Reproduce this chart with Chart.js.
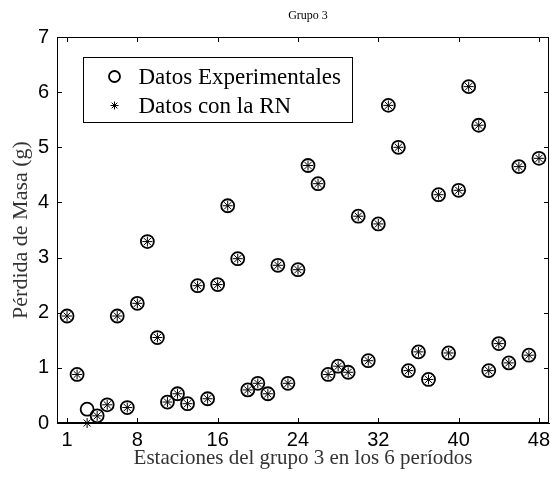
<!DOCTYPE html>
<html>
<head>
<meta charset="utf-8">
<title>Grupo 3</title>
<script src="https://cdn.jsdelivr.net/npm/chart.js@4/dist/chart.umd.min.js"></script>
<style>
    body { margin: 0; background: #fff; }
    canvas { display: block; }
</style>
</head>
<body>
<canvas id="masaChart" width="558" height="480"></canvas>
<script>
const stations = [1, 2, 3, 4, 5, 6, 7, 8, 9, 10, 11, 12, 13, 14, 15, 16,
    17, 18, 19, 20, 21, 22, 23, 24, 25, 26, 27, 28, 29, 30, 31, 32,
    33, 34, 35, 36, 37, 38, 39, 40, 41, 42, 43, 44, 45, 46, 47, 48];

const perdidaExp = [1.94, 0.88, 0.25, 0.13, 0.33, 1.94, 0.28, 2.17, 3.29, 1.55, 0.38, 0.53, 0.35, 2.49, 0.44, 2.51,
    3.94, 2.98, 0.60, 0.72, 0.53, 2.86, 0.72, 2.78, 4.67, 4.34, 0.88, 1.03, 0.92, 3.75, 1.13, 3.61,
    5.76, 5.00, 0.95, 1.29, 0.79, 4.14, 1.27, 4.22, 6.10, 5.40, 0.95, 1.44, 1.09, 4.65, 1.23, 4.80];

const perdidaRN = [1.94, 0.88, 0.00, 0.13, 0.33, 1.94, 0.28, 2.17, 3.29, 1.55, 0.38, 0.53, 0.35, 2.49, 0.44, 2.51,
    3.94, 2.98, 0.60, 0.72, 0.53, 2.86, 0.72, 2.78, 4.67, 4.34, 0.88, 1.03, 0.92, 3.75, 1.13, 3.61,
    5.76, 5.00, 0.95, 1.29, 0.79, 4.14, 1.27, 4.22, 6.10, 5.40, 0.95, 1.44, 1.09, 4.65, 1.23, 4.80];

const xTicks = [1, 8, 16, 24, 32, 40, 48];
const yTicks = [0, 1, 2, 3, 4, 5, 6, 7];

const titleText = "Grupo 3";
const serif = "'Liberation Serif', 'Times New Roman', serif";
const sans = "'Liberation Sans', Arial, sans-serif";

function toPoints(values) {
    return stations.map((s, i) => ({ x: s, y: values[i] }));
}

// MATLAB style box: inward ticks on all four sides, title, legend inside
const matlabBox = {
    id: "matlabBox",
    afterDraw(chart) {
        const ctx = chart.ctx;
        const area = chart.chartArea;
        const xs = chart.scales.x;
        const ys = chart.scales.y;
        const len = 5;

        ctx.save();
        ctx.strokeStyle = "#000";
        ctx.lineWidth = 1;
        ctx.strokeRect(area.left + 0.5, area.top + 0.5, area.right - area.left - 1, area.bottom - area.top - 1);

        ctx.beginPath();
        xTicks.forEach(v => {
            const px = Math.round(xs.getPixelForValue(v)) + 0.5;
            ctx.moveTo(px, area.bottom);
            ctx.lineTo(px, area.bottom - len);
            ctx.moveTo(px, area.top);
            ctx.lineTo(px, area.top + len);
        });
        yTicks.forEach(v => {
            const py = Math.round(ys.getPixelForValue(v)) + 0.5;
            ctx.moveTo(area.left, py);
            ctx.lineTo(area.left + len, py);
            ctx.moveTo(area.right, py);
            ctx.lineTo(area.right - len, py);
        });
        ctx.stroke();

        // title
        ctx.fillStyle = "#000";
        ctx.font = "12px " + serif;
        ctx.textAlign = "center";
        ctx.textBaseline = "middle";
        ctx.fillText(titleText, (area.left + area.right) / 2 + 5, 16);

        // legend
        const lx = area.left + 26.5;
        const ly = area.top + 20.5;
        ctx.fillStyle = "#fff";
        ctx.fillRect(lx, ly, 269, 65);
        ctx.strokeRect(lx, ly, 269, 65);

        chart.data.datasets.forEach((ds, i) => {
            const rowY = ly + 19 + i * 29;
            ctx.save();
            ctx.lineWidth = ds.borderWidth;
            ctx.strokeStyle = "#000";
            ctx.fillStyle = "rgba(0,0,0,0)";
            Chart.helpers.drawPoint(ctx, {
                pointStyle: ds.pointStyle,
                radius: ds.pointRadius - 1,
                borderWidth: ds.borderWidth
            }, lx + 31, rowY);
            ctx.restore();
            ctx.font = "23px " + serif;
            ctx.textAlign = "left";
            ctx.textBaseline = "middle";
            ctx.fillStyle = "#000";
            ctx.fillText(ds.label, lx + 55, rowY + 1);
        });
        ctx.restore();
    }
};

new Chart(document.getElementById("masaChart"), {
    type: "scatter",
    data: {
        datasets: [
            {
                label: "Datos Experimentales",
                data: toPoints(perdidaExp),
                pointStyle: "circle",
                pointRadius: 6.5,
                borderWidth: 1.8,
                borderColor: "#000",
                backgroundColor: "rgba(0,0,0,0)",
                clip: false,
            },
            {
                label: "Datos con la RN",
                data: toPoints(perdidaRN),
                pointStyle: "star",
                pointRadius: 5,
                borderWidth: 1,
                borderColor: "#000",
                backgroundColor: "#000",
                clip: false,
            },
        ],
    },
    options: {
        responsive: false,
        animation: false,
        layout: {
            padding: { top: 37, right: 9, left: 0, bottom: 0 },
        },
        plugins: {
            legend: { display: false },
            tooltip: { enabled: false },
        },
        scales: {
            x: {
                type: "linear",
                min: 0,
                max: 49,
                afterBuildTicks: scale => {
                    scale.ticks = xTicks.map(v => ({ value: v }));
                },
                afterFit: scale => {
                    scale.height = 57;
                },
                grid: { drawOnChartArea: false, drawTicks: false },
                border: { display: true, color: "#000" },
                ticks: {
                    color: "#000",
                    padding: 5,
                    maxRotation: 0,
                    autoSkip: false,
                    font: { family: sans, size: 20 },
                },
                title: {
                    display: true,
                    text: "Estaciones del grupo 3 en los 6 períodos",
                    color: "#333",
                    padding: { top: 0, bottom: 9 },
                    font: { family: serif, size: 21 },
                },
            },
            y: {
                type: "linear",
                min: 0,
                max: 7,
                afterBuildTicks: scale => {
                    scale.ticks = yTicks.map(v => ({ value: v }));
                },
                afterFit: scale => {
                    scale.width = 57;
                },
                grid: { drawOnChartArea: false, drawTicks: false },
                border: { display: true, color: "#000" },
                ticks: {
                    color: "#000",
                    padding: 8,
                    font: { family: sans, size: 20 },
                },
                title: {
                    display: true,
                    text: "Pérdida de Masa (g)",
                    color: "#333",
                    padding: { top: 8, bottom: 0 },
                    font: { family: serif, size: 22 },
                },
            },
        },
    },
    plugins: [matlabBox],
});
</script>
</body>
</html>
